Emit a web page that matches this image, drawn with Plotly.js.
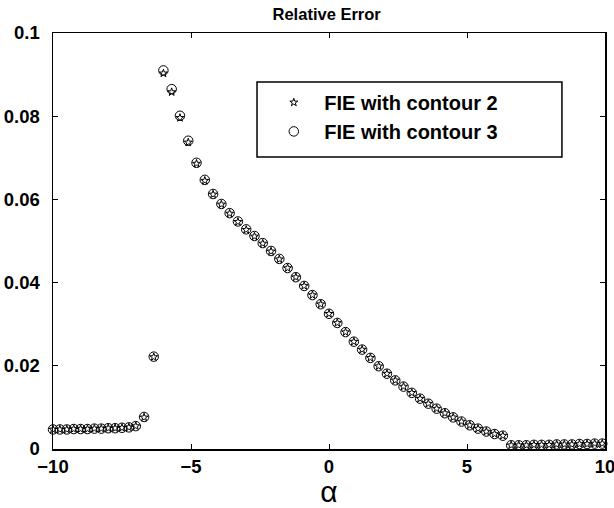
<!DOCTYPE html>
<html>
<head>
<meta charset="utf-8">
<script src="https://cdn.plot.ly/plotly-3.0.1.min.js"></script>
<style>html,body{margin:0;padding:0;background:#fff}#chart{width:614px;height:508px}</style>
</head>
<body>
<div id="chart"></div>
<script>
// alpha values (x)
var alpha = [
  -10, -9.75, -9.5, -9.25, -9, -8.75, -8.5, -8.25, -8, -7.75, -7.5, -7.25, -7.0,
  -6.7, -6.35,
  -6.0, -5.7, -5.4, -5.1, -4.8, -4.5, -4.2, -3.9, -3.6, -3.3, -3.0, -2.7, -2.4, -2.1,
  -1.8, -1.5, -1.2, -0.9, -0.6, -0.3, 0.0, 0.3, 0.6, 0.9, 1.2, 1.5, 1.8, 2.1, 2.4,
  2.7, 3.0, 3.3, 3.6, 3.9, 4.2, 4.5, 4.8, 5.1, 5.4, 5.7, 6.0, 6.3,
  6.6, 6.875, 7.15, 7.425, 7.7, 7.975, 8.25, 8.525, 8.8, 9.075, 9.35, 9.625, 9.9
];
// relative error, FIE with contour 3 (circles)
var errContour3 = [
  0.0047, 0.0047, 0.0047, 0.0048, 0.0048, 0.0048, 0.0049, 0.0049, 0.0050, 0.0050, 0.0051, 0.0052, 0.0055,
  0.0077, 0.0222,
  0.0910, 0.0865, 0.0801, 0.0741, 0.0688, 0.0647, 0.0613, 0.0589, 0.0567, 0.0547, 0.0528, 0.0512, 0.0495, 0.0476,
  0.0457, 0.0435, 0.0413, 0.0392, 0.0370, 0.0348, 0.0325, 0.0303, 0.0281, 0.0258, 0.0239, 0.0219, 0.0199, 0.0181, 0.0165,
  0.0150, 0.0135, 0.0121, 0.0109, 0.0097, 0.0086, 0.0076, 0.0066, 0.0057, 0.0049, 0.0042, 0.0036, 0.0032,
  0.0009, 0.0009, 0.0009, 0.0010, 0.0010, 0.0010, 0.0011, 0.0011, 0.0011, 0.0012, 0.0012, 0.0013, 0.0013
];
// relative error, FIE with contour 2 (stars)
var errContour2 = [
  0.0047, 0.0047, 0.0047, 0.0048, 0.0048, 0.0048, 0.0049, 0.0049, 0.0050, 0.0050, 0.0051, 0.0052, 0.0055,
  0.0076, 0.0221,
  0.0903, 0.0858, 0.0796, 0.0737, 0.0686, 0.0645, 0.0612, 0.0588, 0.0566, 0.0546, 0.0527, 0.0511, 0.0494, 0.0475,
  0.0456, 0.0435, 0.0413, 0.0392, 0.0370, 0.0348, 0.0325, 0.0303, 0.0281, 0.0258, 0.0239, 0.0219, 0.0199, 0.0181, 0.0165,
  0.0150, 0.0135, 0.0121, 0.0109, 0.0097, 0.0086, 0.0076, 0.0066, 0.0057, 0.0049, 0.0042, 0.0036, 0.0032,
  0.0009, 0.0009, 0.0009, 0.0010, 0.0010, 0.0010, 0.0011, 0.0011, 0.0011, 0.0012, 0.0012, 0.0013, 0.0013
];
var seriesNames = ["FIE with contour 2", "FIE with contour 3"];
var xTickVals = [-10, -5, 0, 5, 10];
var xTickText = ["\u221210", "\u22125", "0", "5", "10"];
var yTickVals = [0, 0.02, 0.04, 0.06, 0.08, 0.1];
var yTickText = ["0", "0.02", "0.04", "0.06", "0.08", "0.1"];

var FONT = "Liberation Sans, Arial, Helvetica, sans-serif";

var traces = [
  {
    x: alpha, y: errContour2, name: seriesNames[0], type: "scatter", mode: "markers",
    marker: {symbol: "star-open", size: 6, color: "#000", line: {color: "#000", width: 1}},
    cliponaxis: false
  },
  {
    x: alpha, y: errContour3, name: seriesNames[1], type: "scatter", mode: "markers",
    marker: {symbol: "circle-open", size: 9.5, color: "#000", line: {color: "#000", width: 1}},
    cliponaxis: false
  }
];

var axisCommon = {
  showline: true, linecolor: "#000", linewidth: 1.5, mirror: "ticks",
  ticks: "inside", ticklen: 5, tickwidth: 1, tickcolor: "#000",
  showgrid: false, zeroline: false, ticklabeloverflow: "allow",
  tickfont: {family: FONT, size: 18.5, color: "#000", weight: "bold"}
};

var layout = {
  width: 614, height: 508,
  margin: {l: 53, r: 9, t: 33, b: 59},
  paper_bgcolor: "#fff", plot_bgcolor: "#fff",
  title: {text: "<b>Relative Error</b>", font: {family: FONT, size: 16.5, color: "#000"},
          x: 0.532, xanchor: "center", y: 0.972, yanchor: "middle"},
  xaxis: Object.assign({}, axisCommon, {
    range: [-10, 10], tickmode: "array", tickvals: xTickVals, ticktext: xTickText,
    ticklabelstandoff: 0,
    title: {text: "\u03b1", font: {family: FONT, size: 30, color: "#000"}, standoff: 0}
  }),
  yaxis: Object.assign({}, axisCommon, {
    range: [0, 0.1], tickmode: "array", tickvals: yTickVals, ticktext: yTickText,
    ticklabelstandoff: 8
  }),
  showlegend: true,
  legend: {
    x: 0.381, xanchor: "left", y: 0.88, yanchor: "top",
    bgcolor: "rgba(0,0,0,0)", borderwidth: 0,
    traceorder: "normal", itemwidth: 51,
    font: {family: FONT, size: 20, color: "#000", weight: "bold"}
  },
  shapes: [
    {type: "rect", xref: "paper", yref: "paper", x0: 0.3696, x1: 0.922, y0: 0.702, y1: 0.882,
     line: {color: "#000", width: 1.5}, fillcolor: "rgba(255,255,255,1)", layer: "below"}
  ]
};

Plotly.newPlot("chart", traces, layout, {displayModeBar: false, staticPlot: true});
</script>
</body>
</html>
